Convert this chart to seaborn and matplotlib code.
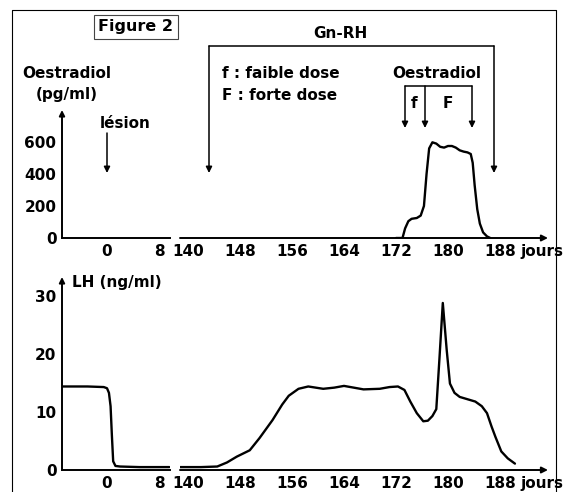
import matplotlib
matplotlib.use("Agg")
import matplotlib.pyplot as plt
import matplotlib.transforms as mtrans
import seaborn as sns
import pandas as pd

# ---------------- data ----------------
oes_days = [172.0, 173.0, 173.4, 173.9, 174.4, 175.2, 175.8, 176.3, 176.7, 177.1, 177.6,
            178.2, 178.8, 179.4, 180.0, 180.6, 181.2, 181.8, 182.4, 183.0, 183.5,
            183.8, 184.1, 184.5, 184.9, 185.4, 186.0, 186.5]
oes_vals = [0, 0, 60, 105, 120, 125, 140, 200, 400, 560, 598,
            590, 570, 565, 575, 575, 565, 548, 540, 535, 525,
            470, 330, 180, 90, 35, 10, 0]

lh_left_days = [-7, -3, -0.5, 0, 0.3, 0.55, 0.75, 0.95, 1.3, 2, 5, 9.6]
lh_left_vals = [14.4, 14.4, 14.3, 14.1, 13.3, 11, 6, 1.5, 0.7, 0.6, 0.5, 0.5]

lh_right_days = [138.8, 142, 144.5, 146, 147.5, 149.5, 151, 153, 154.5, 155.5, 157, 158.5,
                 160.8, 162.5, 164, 165.5, 167, 169.5, 171, 172.3, 173.3, 174.2, 175.2,
                 176.2, 176.9, 177.6, 178.2, 178.7, 179.2, 179.8, 180.3, 181.0, 181.8,
                 183.0, 184.2, 185.2, 186.0, 186.7, 187.3, 188.2, 189.2, 190.3]
lh_right_vals = [0.5, 0.5, 0.6, 1.3, 2.3, 3.4, 5.5, 8.6, 11.3, 12.8, 14.0, 14.4,
                 14.0, 14.2, 14.5, 14.2, 13.9, 14.0, 14.3, 14.4, 13.8, 11.8, 9.8,
                 8.4, 8.5, 9.3, 10.5, 19.5, 28.8, 20.7, 14.9, 13.3, 12.6,
                 12.2, 11.8, 11.0, 9.8, 7.5, 5.7, 3.2, 2.0, 1.1]

xticks_left = [0, 8]
xticks_right = [140, 148, 156, 164, 172, 180, 188]
yticks_oes = [0, 200, 400, 600]
yticks_lh = [0, 10, 20, 30]

# ---------------- style ----------------
sns.set_style("white")
plt.rcParams['font.family'] = ['DejaVu Sans']
plt.rcParams['font.weight'] = 'bold'
plt.rcParams['text.color'] = 'black'
FS = 11

W, H = 565, 492
fig = plt.figure(figsize=(W / 100, H / 100), dpi=100)


def rect(x0, y0, x1, y1):
    return [x0 / W, 1 - y1 / H, (x1 - x0) / W, (y1 - y0) / H]


def fx(x):
    return x / W


def fy(y):
    return 1 - y / H


px = 6.5  # pixels per day
axTL = fig.add_axes(rect(62, 110, 170, 238))
axTR = fig.add_axes(rect(180, 110, 548, 238))
axBL = fig.add_axes(rect(62, 277, 170, 470))
axBR = fig.add_axes(rect(180, 277, 548, 470))

for ax in (axTL, axBL):
    ax.set_xlim(-45 / px, 108 / px - 45 / px)
for ax in (axTR, axBR):
    ax.set_xlim(140 - 8 / px, 140 + (548 - 188) / px)
for ax in (axTL, axTR):
    ax.set_ylim(0, 800)
for ax in (axBL, axBR):
    ax.set_ylim(0, (470 - 277) / 5.8)

lw = 1.7
sns.lineplot(data=pd.DataFrame({"d": oes_days, "v": oes_vals}), x="d", y="v",
             ax=axTR, color="black", lw=lw, sort=False)
sns.lineplot(data=pd.DataFrame({"d": lh_left_days, "v": lh_left_vals}), x="d", y="v",
             ax=axBL, color="black", lw=lw, sort=False)
sns.lineplot(data=pd.DataFrame({"d": lh_right_days, "v": lh_right_vals}), x="d", y="v",
             ax=axBR, color="black", lw=lw, sort=False)

for ax in (axTL, axTR, axBL, axBR):
    ax.set_xlabel("")
    ax.set_ylabel("")
    ax.patch.set_alpha(0)
    for s in ("top", "right", "left"):
        ax.spines[s].set_visible(False)
    ax.spines["bottom"].set_linewidth(1.4)
    ax.spines["bottom"].set_color("black")
    ax.tick_params(axis="both", direction="inout", length=5, width=1.0,
                   labelsize=FS, pad=1.5, colors="black")

for ax in (axTL, axBL):
    ax.set_xticks(xticks_left)
    ax.set_xticklabels([str(t) for t in xticks_left], fontweight="bold")
for ax in (axTR, axBR):
    ax.set_xticks(xticks_right)
    ax.set_xticklabels([str(t) for t in xticks_right], fontweight="bold")
    ax.set_yticks([])
    ax.tick_params(axis="y", left=False)
    # x axis arrow
    ax.spines["bottom"].set_visible(False)
    ax.annotate("", xy=(1.0, 0), xytext=(0, 0), xycoords="axes fraction",
                arrowprops=dict(arrowstyle="-|>", lw=1.4, color="black",
                                mutation_scale=9, shrinkA=0, shrinkB=0))
    tr = mtrans.offset_copy(ax.get_xaxis_transform(), fig=fig, y=-4.0, units="points")
    ax.text(191.2, 0, "jours", transform=tr, ha="left", va="top",
            fontsize=FS, fontweight="bold", color="black")

axTL.set_yticks(yticks_oes)
axTL.set_yticklabels([str(t) for t in yticks_oes], fontweight="bold")
axBL.set_yticks(yticks_lh)
axBL.set_yticklabels([str(t) for t in yticks_lh], fontweight="bold")
for ax in (axTL, axBL):
    ax.annotate("", xy=(0, 1.0), xytext=(0, 0), xycoords="axes fraction",
                arrowprops=dict(arrowstyle="-|>", lw=1.4, color="black",
                                mutation_scale=8, shrinkA=0, shrinkB=0))

# ---------------- annotations ----------------
def ftext(x, y, s, **kw):
    kw.setdefault("fontsize", FS)
    kw.setdefault("fontweight", "bold")
    kw.setdefault("color", "black")
    fig.text(fx(x), fy(y), s, **kw)


def farrow(x0, y0, x1, y1):
    fig.add_artist(matplotlib.patches.FancyArrowPatch(
        (fx(x0), fy(y0)), (fx(x1), fy(y1)), transform=fig.transFigure,
        arrowstyle="-|>", mutation_scale=9, lw=1.1, color="black",
        shrinkA=0, shrinkB=0))


def fline(xs, ys, lw=1.1):
    fig.add_artist(matplotlib.lines.Line2D([fx(v) for v in xs], [fy(v) for v in ys],
                                           transform=fig.transFigure, color="black", lw=lw))


# page border
fline([12, 12, 556, 556], [492, 10, 10, 492], lw=0.8)

# Figure 2 box
ftext(136, 27, "Figure 2", ha="center", va="center", fontsize=11.5,
      bbox=dict(boxstyle="square,pad=0.3", fc="white", ec="#444444", lw=0.8))

# y labels
ftext(67, 73, "Oestradiol", ha="center", va="center")
ftext(67, 95, "(pg/ml)", ha="center", va="center")
ftext(72, 282, "LH (ng/ml)", ha="left", va="center")

# lésion
ftext(100, 123, "lésion", ha="left", va="center")
farrow(107, 133, 107, 173)

# Gn-RH bracket
ftext(340, 33, "Gn-RH", ha="center", va="center")
fline([209, 494], [46, 46])
farrow(209, 46, 209, 173)
farrow(494, 46, 494, 173)

ftext(222, 73, "f : faible dose", ha="left", va="center")
ftext(222, 95, "F : forte dose", ha="left", va="center")

# Oestradiol treatment bracket
ftext(437, 73, "Oestradiol", ha="center", va="center")
fline([405, 472], [86, 86])
farrow(405, 86, 405, 128)
farrow(425, 86, 425, 128)
farrow(472, 86, 472, 128)
ftext(414, 103, "f", ha="center", va="center")
ftext(448, 103, "F", ha="center", va="center")

fig.savefig("out.png", dpi=100)
